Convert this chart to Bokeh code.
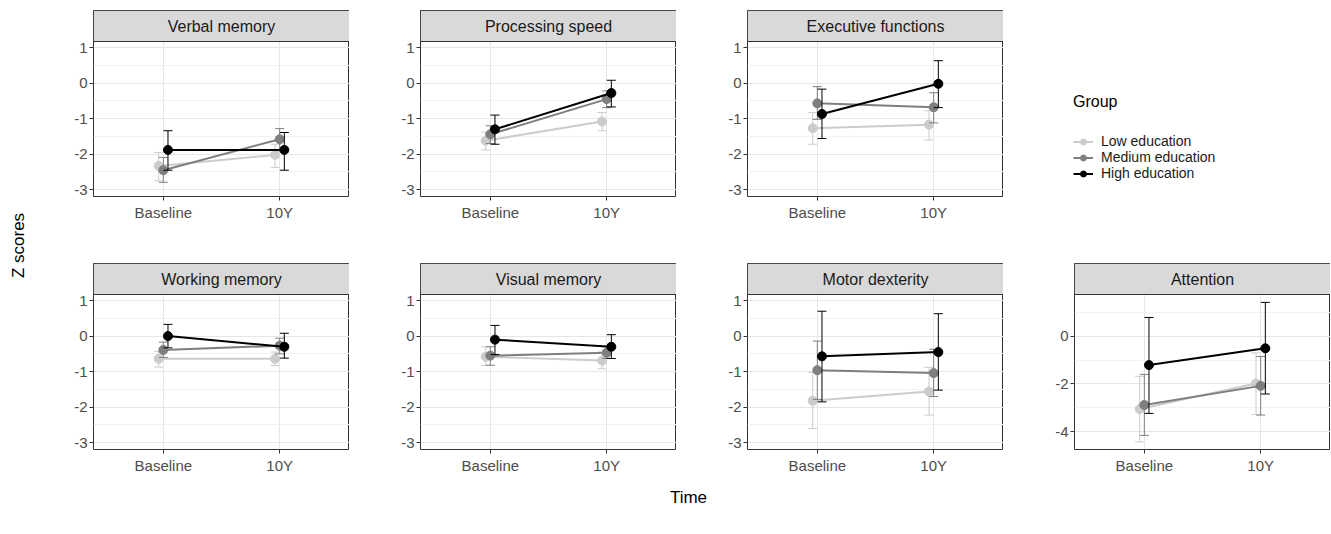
from bokeh.plotting import figure
from bokeh.layouts import row, column
from bokeh.models import Range1d, FixedTicker, BoxAnnotation, Label, Legend, LegendItem, ColumnDataSource
from bokeh.embed import file_html
from bokeh.resources import INLINE
import math

# ---------------- data ----------------
times = ["Baseline", "10Y"]
groups = ["Low education", "Medium education", "High education"]
domains = ["Verbal memory", "Processing speed", "Executive functions",
           "Working memory", "Visual memory", "Motor dexterity", "Attention"]

# mean z-scores [Baseline, 10Y] per domain
low_mean = [[-2.33, -2.02], [-1.62, -1.08], [-1.27, -1.17], [-0.64, -0.64],
            [-0.58, -0.69], [-1.82, -1.56], [-3.05, -1.98]]
low_lower = [[-2.75, -2.37], [-1.88, -1.34], [-1.72, -1.60], [-0.87, -0.83],
             [-0.83, -0.92], [-2.60, -2.22], [-4.42, -3.28]]
low_upper = [[-1.95, -1.72], [-1.38, -0.83], [-0.83, -0.78], [-0.43, -0.45],
             [-0.30, -0.45], [-1.02, -0.88], [-1.68, -0.70]]

med_mean = [[-2.45, -1.58], [-1.44, -0.45], [-0.57, -0.68], [-0.39, -0.27],
            [-0.55, -0.47], [-0.96, -1.04], [-2.88, -2.08]]
med_lower = [[-2.79, -1.90], [-1.70, -0.69], [-1.02, -1.12], [-0.60, -0.50],
             [-0.82, -0.63], [-1.78, -1.70], [-4.15, -3.30]]
med_upper = [[-2.09, -1.28], [-1.20, -0.22], [-0.10, -0.27], [-0.17, -0.06],
             [-0.30, -0.30], [-0.14, -0.37], [-1.60, -0.85]]

high_mean = [[-1.88, -1.88], [-1.30, -0.28], [-0.87, -0.02], [0.00, -0.30],
             [-0.10, -0.30], [-0.57, -0.45], [-1.21, -0.51]]
high_lower = [[-2.45, -2.45], [-1.72, -0.67], [-1.56, -0.69], [-0.33, -0.62],
              [-0.52, -0.63], [-1.85, -1.52], [-3.23, -2.42]]
high_upper = [[-1.34, -1.39], [-0.90, 0.08], [-0.17, 0.63], [0.33, 0.08],
              [0.30, 0.04], [0.70, 0.63], [0.78, 1.41]]

y_limits = [(-3.19, 1.17)] * 6 + [(-4.74, 1.74)]
y_major = [[-3, -2, -1, 0, 1]] * 6 + [[-4, -2, 0]]
y_minor = [[-2.5, -1.5, -0.5, 0.5]] * 6 + [[-5, -3, -1, 1]]

# ---------------- style ----------------
colors = ["#cccccc", "#7f7f7f", "#000000"]
dodge = [-0.04, 0.0, 0.04]
FONT = "Liberation Sans"
FRAME_W, FRAME_H = 256, 186
STRIP, DATA = 31, 155
ROW1_TOP, ROW1_BOTTOM = 10, 65
ROW2_TOP, ROW2_BOTTOM = 2, 30

series = [(low_mean, low_lower, low_upper),
          (med_mean, med_lower, med_upper),
          (high_mean, high_lower, high_upper)]


def make_panel(i, left, top_b, bottom):
    ymin, ymax = y_limits[i]
    top = ymax + (ymax - ymin) * STRIP / DATA
    p = figure(width=left + FRAME_W, height=top_b + FRAME_H + bottom,
               x_range=Range1d(0.4, 2.6), y_range=Range1d(ymin, top),
               output_backend="svg", toolbar_location=None,
               min_border_left=left, min_border_right=0,
               min_border_top=top_b, min_border_bottom=bottom)
    p.background_fill_color = "white"
    p.border_fill_color = "white"
    p.outline_line_color = "#333333"
    p.outline_line_width = 1

    p.xaxis.ticker = FixedTicker(ticks=[1, 2])
    p.xaxis.major_label_overrides = {1: times[0], 2: times[1]}
    p.yaxis.ticker = FixedTicker(ticks=y_major[i], minor_ticks=y_minor[i])
    p.yaxis.major_label_overrides = {t: str(t) for t in y_major[i]}
    for ax in (p.xaxis[0], p.yaxis[0]):
        ax.axis_line_color = None
        ax.major_tick_line_color = "#333333"
        ax.major_tick_out = 4
        ax.major_tick_in = 0
        ax.minor_tick_line_color = None
        ax.major_label_text_font = FONT
        ax.major_label_text_font_size = "15px"
        ax.major_label_text_color = "#4d4d4d"
    p.xaxis.major_label_standoff = 3
    p.yaxis.major_label_standoff = 2

    p.xgrid.grid_line_color = "#e6e6e6"
    p.ygrid.grid_line_color = "#e6e6e6"
    p.ygrid.minor_grid_line_color = "#f2f2f2"

    for g in range(3):
        mean, lower, upper = series[g]
        xs = [k + 1 + dodge[g] for k in range(len(times))]
        src = ColumnDataSource(dict(x=xs, y=mean[i], lo=lower[i], hi=upper[i]))
        c = colors[g]
        p.line("x", "y", source=src, line_color=c, line_width=2)
        p.segment("x", "lo", "x", "hi", source=src, line_color=c, line_width=1)
        p.scatter("x", "lo", source=src, marker="dash", size=9, line_color=c, line_width=1)
        p.scatter("x", "hi", source=src, marker="dash", size=9, line_color=c, line_width=1)
        p.scatter("x", "y", source=src, marker="circle", size=9, fill_color=c, line_color=c)

    strip = BoxAnnotation(bottom=ymax, fill_color="#d9d9d9", fill_alpha=1,
                          line_color="#333333", line_width=1, line_alpha=1)
    p.add_layout(strip)
    p.add_layout(Label(x=1.5, y=(ymax + top) / 2, text=domains[i],
                       text_align="center", text_baseline="middle",
                       text_font=FONT, text_font_size="16px", text_color="#1a1a1a"))
    return p


r1 = [make_panel(0, 63, ROW1_TOP, ROW1_BOTTOM), make_panel(1, 71, ROW1_TOP, ROW1_BOTTOM),
      make_panel(2, 71, ROW1_TOP, ROW1_BOTTOM)]
r2 = [make_panel(3, 63, ROW2_TOP, ROW2_BOTTOM), make_panel(4, 71, ROW2_TOP, ROW2_BOTTOM),
      make_panel(5, 71, ROW2_TOP, ROW2_BOTTOM), make_panel(6, 71, ROW2_TOP, ROW2_BOTTOM)]
row1_h = ROW1_TOP + FRAME_H + ROW1_BOTTOM
row2_h = ROW2_TOP + FRAME_H + ROW2_BOTTOM

# legend figure (key renderers carry a single NaN point so nothing is plotted)
lg = figure(width=327, height=row1_h, x_range=Range1d(0, 1), y_range=Range1d(0, 1),
            output_backend="svg", toolbar_location=None,
            min_border_left=0, min_border_right=0, min_border_top=ROW1_TOP, min_border_bottom=ROW1_BOTTOM)
lg.axis.visible = False
lg.grid.visible = False
lg.outline_line_color = None
lg.background_fill_alpha = 0
items = []
for g in range(3):
    src = ColumnDataSource(dict(x=[float("nan")], y=[float("nan")]))
    l_r = lg.line("x", "y", source=src, line_color=colors[g], line_width=2)
    s_r = lg.scatter("x", "y", source=src, marker="circle", size=6, fill_color=colors[g], line_color=colors[g])
    items.append(LegendItem(label=groups[g], renderers=[l_r, s_r]))
legend = Legend(items=items, location=(70, 15), title="Group",
                title_text_font=FONT, title_text_font_size="16px", title_text_font_style="normal",
                title_text_color="#000000", title_standoff=22,
                label_text_font=FONT, label_text_font_size="14px", label_text_color="#1a1a1a",
                glyph_width=20, glyph_height=15, label_height=15, label_standoff=8, spacing=0,
                padding=0, margin=0, border_line_color=None, background_fill_alpha=0)
lg.add_layout(legend)

# axis titles
total_h = row1_h + row2_h + 35
zf = figure(width=30, height=total_h, x_range=Range1d(0, 1), y_range=Range1d(0, 1),
            output_backend="svg", toolbar_location=None,
            min_border_left=0, min_border_right=0, min_border_top=0, min_border_bottom=0)
zf.axis.visible = False
zf.grid.visible = False
zf.outline_line_color = None
zf.add_layout(Label(x=18, y=total_h - 245, x_units="screen", y_units="screen", text="Z scores",
                    angle=math.pi / 2, text_align="center", text_baseline="middle",
                    text_font=FONT, text_font_size="17px", text_color="#000000"))

tf = figure(width=1300, height=35, x_range=Range1d(0, 1), y_range=Range1d(0, 1),
            output_backend="svg", toolbar_location=None,
            min_border_left=0, min_border_right=0, min_border_top=0, min_border_bottom=0)
tf.axis.visible = False
tf.grid.visible = False
tf.outline_line_color = None
tf.add_layout(Label(x=658, y=17, x_units="screen", y_units="screen", text="Time",
                    text_align="center", text_baseline="middle",
                    text_font=FONT, text_font_size="17px", text_color="#000000"))

grid = column(row(*r1, lg, spacing=0), row(*r2, spacing=0), tf, spacing=0)
layout = row(zf, grid, spacing=0)

open("out.html", "w").write(file_html(layout, INLINE))
